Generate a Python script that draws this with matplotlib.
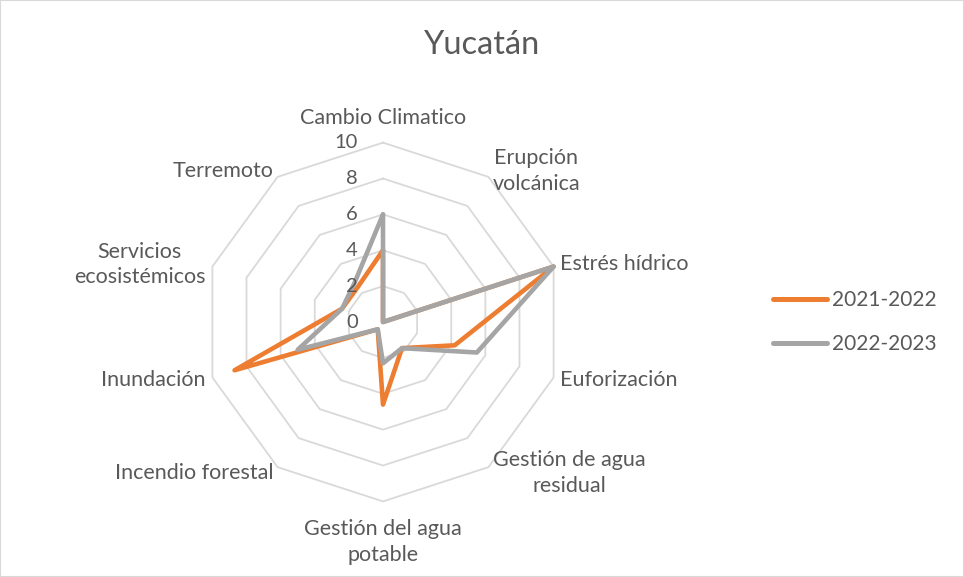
import numpy as np
import matplotlib
matplotlib.use("Agg")
import matplotlib.pyplot as plt
from matplotlib.patches import Rectangle

plt.rcParams['font.family'] = ['Lato', 'DejaVu Sans']

# datos
categorias = ["Cambio Climatico", "Erupción\nvolcánica", "Estrés hídrico", "Euforización",
              "Gestión de agua\nresidual", "Gestión del agua\npotable", "Incendio forestal",
              "Inundación", "Servicios\necosistémicos", "Terremoto"]
serie_2122 = [4, 0, 10, 4.2, 1.8, 4.6, 0.5, 8.7, 2.4, 2.4]
serie_2223 = [6, 0, 10, 5.5, 1.8, 2.3, 0.5, 5, 2.4, 2.7]
niveles = [0, 2, 4, 6, 8, 10]

gris_txt = '#595959'
n = len(categorias)
ang = np.linspace(0, 2 * np.pi, n, endpoint=False)
ang_c = np.append(ang, ang[0])

fig = plt.figure(figsize=(9.64, 5.77), dpi=100)
fig.patches.append(Rectangle((0, 0), 1, 1, transform=fig.transFigure, fill=False,
                             edgecolor='#d9d9d9', lw=1.5))

ax = fig.add_axes([0.2112, 0.1310, 0.3722, 0.6218], projection='polar')
ax.set_theta_zero_location('N')
ax.set_theta_direction(-1)
ax.set_ylim(0, 10)
ax.grid(False)
ax.spines['polar'].set_visible(False)
ax.set_xticks([])
ax.set_yticks([])
ax.patch.set_alpha(0)

# rejilla poligonal
for lv in niveles[1:]:
    ax.plot(ang_c, [lv] * (n + 1), color='#d9d9d9', lw=1.3, zorder=1, clip_on=False)

# series
ax.plot(ang_c, serie_2122 + serie_2122[:1], color='#ED7D31', lw=3.3,
        solid_joinstyle='round', solid_capstyle='round', label='2021-2022', zorder=3, clip_on=False)
ax.plot(ang_c, serie_2223 + serie_2223[:1], color='#A5A5A5', lw=3.3,
        solid_joinstyle='round', solid_capstyle='round', label='2022-2023', zorder=4, clip_on=False)

# etiquetas del eje
for lv in niveles:
    ax.annotate(str(lv), (0, lv), xytext=(-18, 0), textcoords='offset points',
                ha='right', va='center', fontsize=14.5, color=gris_txt, zorder=6)

# etiquetas de categorías
for a, txt in zip(ang, categorias):
    deg = np.degrees(a)
    if deg == 0:
        ha, va, r = 'center', 'bottom', 10.8
    elif deg == 180:
        ha, va, r = 'center', 'top', 11.0
    elif deg < 180:
        ha, va, r = 'left', 'center', 10.4
    else:
        ha, va, r = 'right', 'center', 10.4
    ax.text(a, r, txt, ha=ha, va=va, fontsize=15.5, color=gris_txt,
            multialignment='center', linespacing=1.35)

fig.text(0.5, 0.922, 'Yucatán', ha='center', va='center', fontsize=23.5, color=gris_txt)

leg = fig.legend(loc='center left', bbox_to_anchor=(0.782, 0.442), frameon=False,
                 fontsize=15, handlelength=2.6, handletextpad=0.25, labelspacing=1.15,
                 labelcolor=gris_txt)
for h in leg.get_lines():
    h.set_linewidth(3.6)
    h.set_solid_capstyle('round')

fig.savefig('out.png', dpi=100)
